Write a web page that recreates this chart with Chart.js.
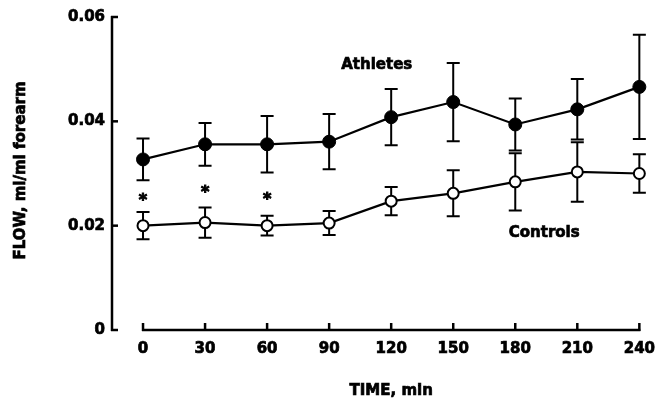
<!DOCTYPE html>
<html>
<head>
<meta charset="utf-8">
<script src="https://cdn.jsdelivr.net/npm/chart.js@4"></script>
<style>
  html, body { margin: 0; padding: 0; background: #fff; }
  #wrap { width: 665px; height: 403px; }
</style>
</head>
<body>
<div id="wrap"><canvas id="flowChart" width="665" height="403"></canvas></div>
<script>
// time points (min)
const times = [0, 30, 60, 90, 120, 150, 180, 210, 240];
const xTicks = [0, 30, 60, 90, 120, 150, 180, 210, 240];
const yTicks = [0, 0.02, 0.04, 0.06];

// forearm blood flow, ml/ml forearm (mean and SE)
const athletesMean = [0.0327, 0.0356, 0.0356, 0.0361, 0.0408, 0.0437, 0.0394, 0.0423, 0.0466];
const athletesSE   = [0.0040, 0.0041, 0.0054, 0.0053, 0.0054, 0.0075, 0.0050, 0.0058, 0.0100];
const controlsMean = [0.0200, 0.0206, 0.0200, 0.0205, 0.0247, 0.0262, 0.0284, 0.0303, 0.0300];
const controlsSE   = [0.0026, 0.0029, 0.0019, 0.0023, 0.0027, 0.0044, 0.0055, 0.0057, 0.0037];

// significance markers
const starTimes = [0, 30, 60];
const starY = [0.0257, 0.0272, 0.0258];

// series labels placed in data space
const seriesLabels = ["Athletes", "Controls"];
const labelX = [113, 194];
const labelY = [0.0508, 0.0186];

const xTitle = "TIME, min";
const yTitle = "FLOW, ml/ml forearm";

const FONT = "'DejaVu Sans', sans-serif";

const toPoints = (xs, ys) => xs.map((x, i) => ({ x: x, y: ys[i] }));

// heavy text like the original print
function boldText(ctx, s, x, y) {
    ctx.strokeText(s, x, y);
    ctx.fillText(s, x, y);
}

const axesPlugin = {
    id: "axesPlugin",
    beforeDatasetsDraw(chart) {
        const ctx = chart.ctx;
        const xs = chart.scales.x;
        const ys = chart.scales.y;

        ctx.save();
        ctx.strokeStyle = "#000";
        ctx.lineWidth = 2.5;
        ctx.lineCap = "butt";

        // y axis with inward ticks
        const ax = chart.chartArea.left;
        ctx.beginPath();
        ctx.moveTo(ax, ys.getPixelForValue(0.06) - 1);
        ctx.lineTo(ax, ys.getPixelForValue(0) + 1);
        ctx.stroke();
        yTicks.forEach(v => {
            const py = ys.getPixelForValue(v);
            ctx.beginPath();
            ctx.moveTo(ax - 1, py);
            ctx.lineTo(ax + 6, py);
            ctx.stroke();
        });

        // detached x axis with upward ticks
        const ay = ys.getPixelForValue(0);
        const x0 = xs.getPixelForValue(xTicks[0]);
        const x1 = xs.getPixelForValue(xTicks[xTicks.length - 1]);
        ctx.beginPath();
        ctx.moveTo(x0 - 1, ay);
        ctx.lineTo(x1 + 1, ay);
        ctx.stroke();
        xTicks.forEach(v => {
            const px = xs.getPixelForValue(v);
            ctx.beginPath();
            ctx.moveTo(px, ay + 1);
            ctx.lineTo(px, ay - 7);
            ctx.stroke();
        });

        // axis titles
        ctx.fillStyle = "#000";
        ctx.lineWidth = 0.7;
        ctx.font = "bold 15px " + FONT;
        ctx.textAlign = "center";
        ctx.textBaseline = "middle";
        boldText(ctx, xTitle, (x0 + x1) / 2, 391);

        ctx.save();
        ctx.translate(21, (ys.getPixelForValue(0.06) + ay) / 2 - 3);
        ctx.rotate(-Math.PI / 2);
        boldText(ctx, yTitle, 0, 0);
        ctx.restore();

        // error bars
        ctx.lineWidth = 2;
        const bars = [[athletesMean, athletesSE], [controlsMean, controlsSE]];
        bars.forEach(([means, ses]) => {
            times.forEach((t, i) => {
                const px = xs.getPixelForValue(t);
                const top = ys.getPixelForValue(means[i] + ses[i]);
                const bot = ys.getPixelForValue(means[i] - ses[i]);
                ctx.beginPath();
                ctx.moveTo(px, top);
                ctx.lineTo(px, bot);
                ctx.moveTo(px - 6.5, top);
                ctx.lineTo(px + 6.5, top);
                ctx.moveTo(px - 6.5, bot);
                ctx.lineTo(px + 6.5, bot);
                ctx.stroke();
            });
        });
        ctx.restore();
    },
    afterDatasetsDraw(chart) {
        const ctx = chart.ctx;
        const xs = chart.scales.x;
        const ys = chart.scales.y;
        ctx.save();
        ctx.fillStyle = "#000";
        ctx.strokeStyle = "#000";
        ctx.lineWidth = 0.7;
        ctx.textAlign = "center";

        ctx.font = "bold 15px " + FONT;
        ctx.textBaseline = "middle";
        seriesLabels.forEach((s, i) => {
            boldText(ctx, s, xs.getPixelForValue(labelX[i]), ys.getPixelForValue(labelY[i]));
        });

        ctx.font = "bold 16px " + FONT;
        ctx.lineWidth = 1;
        ctx.textBaseline = "alphabetic";
        starTimes.forEach((t, i) => {
            boldText(ctx, "*", xs.getPixelForValue(t), ys.getPixelForValue(starY[i]) + 9);
        });
        ctx.restore();
    }
};

const tickFont = { family: FONT, size: 15, weight: "bold" };

new Chart(document.getElementById("flowChart"), {
    type: "line",
    data: {
        datasets: [
            {
                label: "Athletes",
                data: toPoints(times, athletesMean),
                borderColor: "#000",
                borderWidth: 2.2,
                pointRadius: 6.5,
                pointBorderWidth: 1,
                pointBackgroundColor: "#000",
                pointBorderColor: "#000",
                clip: false,
                tension: 0
            },
            {
                label: "Controls",
                data: toPoints(times, controlsMean),
                borderColor: "#000",
                borderWidth: 2.2,
                pointRadius: 5.5,
                pointBorderWidth: 2,
                pointBackgroundColor: "#fff",
                pointBorderColor: "#000",
                clip: false,
                tension: 0
            }
        ]
    },
    options: {
        responsive: false,
        animation: false,
        layout: { padding: { top: 17, right: 25, left: 0, bottom: 0 } },
        plugins: {
            legend: { display: false },
            tooltip: { enabled: false }
        },
        scales: {
            x: {
                type: "linear",
                min: -15,
                max: 240,
                grid: { display: false, drawTicks: false },
                border: { display: false },
                afterBuildTicks: scale => {
                    scale.ticks = xTicks.map(v => ({ value: v }));
                },
                afterFit: scale => { scale.height = 73; },
                ticks: {
                    padding: 10,
                    color: "#000",
                    maxRotation: 0,
                    textStrokeColor: "#000",
                    textStrokeWidth: 0.7,
                    font: tickFont
                }
            },
            y: {
                min: 0,
                max: 0.06,
                grid: { display: false, drawTicks: false },
                border: { display: false },
                afterBuildTicks: scale => {
                    scale.ticks = yTicks.map(v => ({ value: v }));
                },
                afterFit: scale => { scale.width = 112; },
                ticks: {
                    padding: 7,
                    color: "#000",
                    textStrokeColor: "#000",
                    textStrokeWidth: 0.7,
                    font: tickFont,
                    callback: v => (v === 0 ? "0" : v.toFixed(2))
                }
            }
        }
    },
    plugins: [axesPlugin]
});
</script>
</body>
</html>
